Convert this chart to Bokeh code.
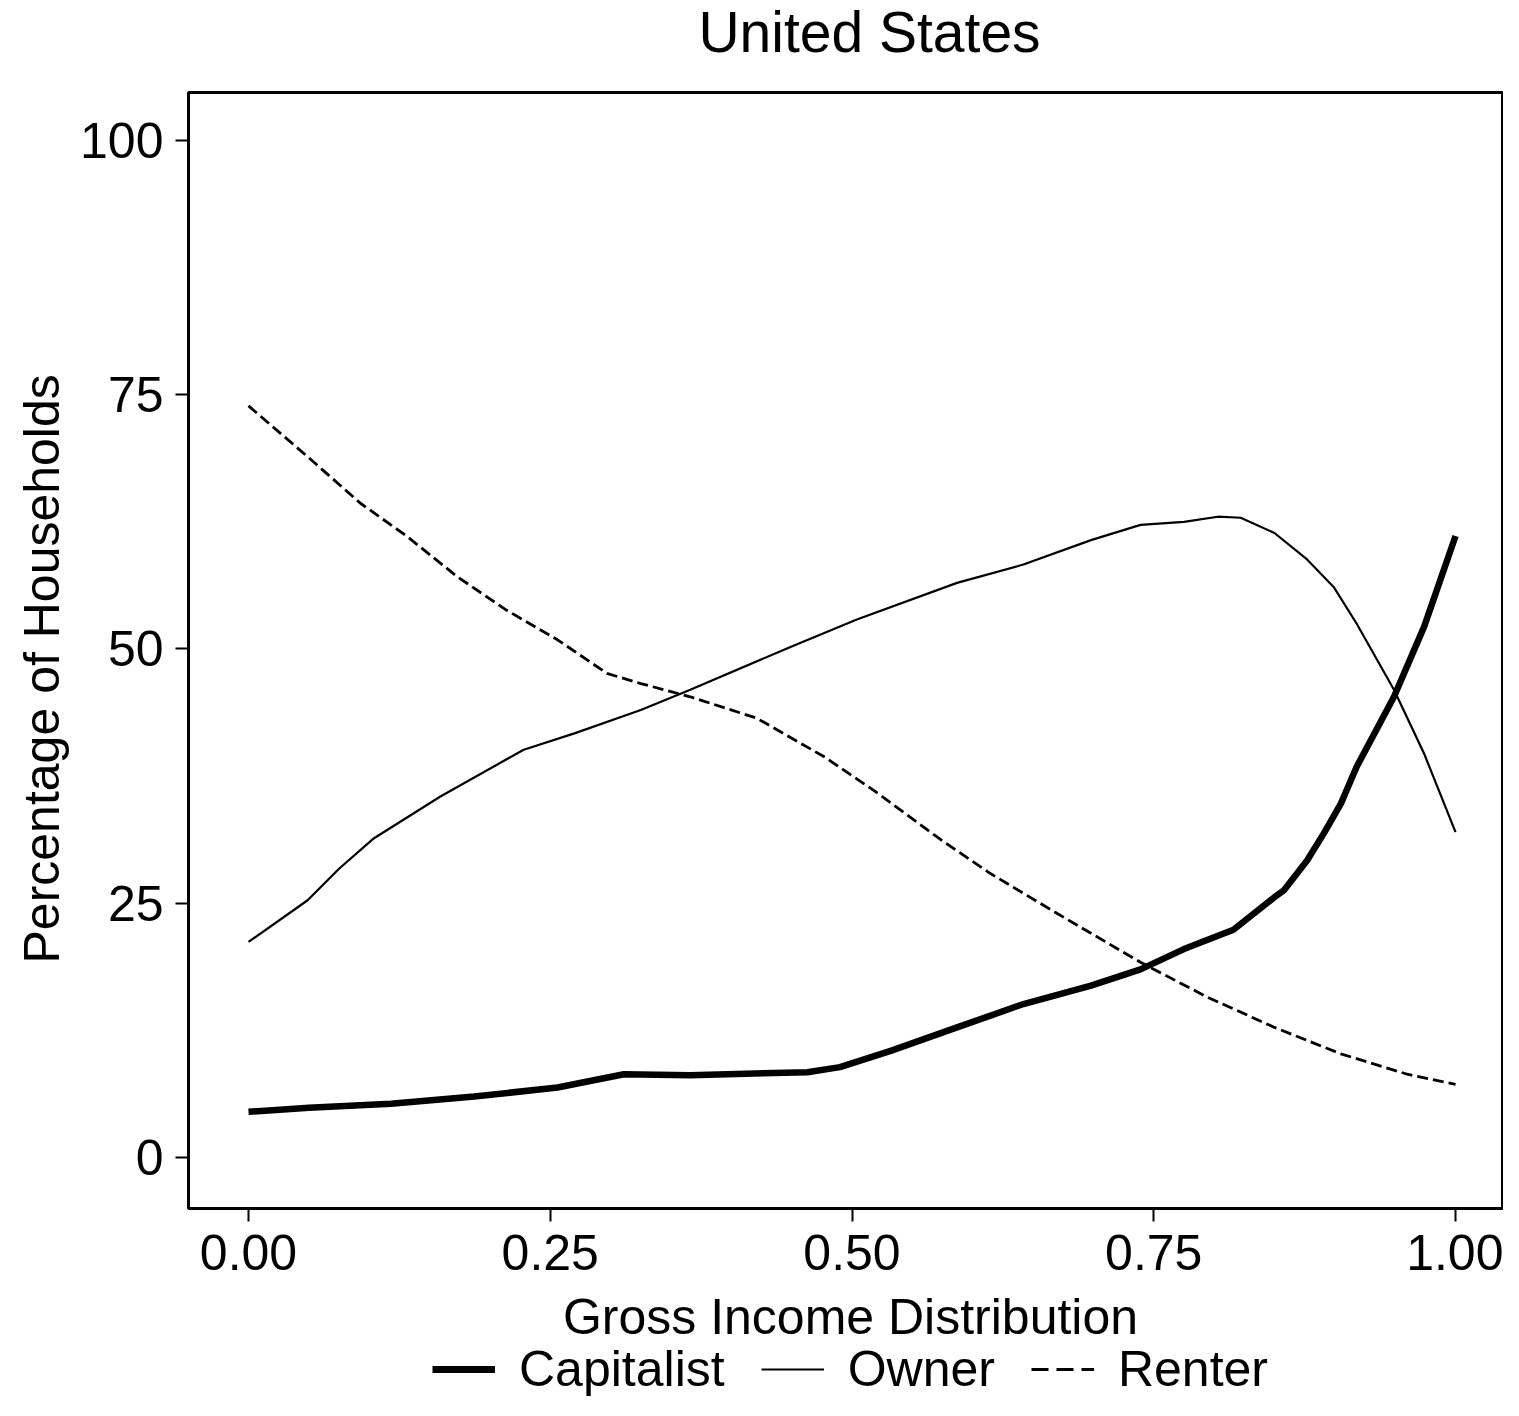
from bokeh.plotting import figure
from bokeh.layouts import column
from bokeh.models import (Range1d, FixedTicker, NumeralTickFormatter, Legend, LegendItem,
                          Title, Label)
from bokeh.embed import file_html
from bokeh.resources import INLINE

# Capitalist (thick line)
cap_x = [0.0, 0.05, 0.118, 0.187, 0.256, 0.311, 0.366, 0.463, 0.49, 0.532, 0.587, 0.642,
         0.698, 0.739, 0.775, 0.816, 0.85, 0.858, 0.877, 0.891, 0.905, 0.918, 0.949, 0.974, 1.0]
cap_y = [4.5, 4.9, 5.3, 6.0, 6.9, 8.2, 8.1, 8.4, 8.9, 10.5, 12.8, 15.1,
         16.9, 18.5, 20.5, 22.4, 25.6, 26.3, 29.2, 31.9, 34.8, 38.4, 45.3, 52.2, 61.1]

# Owner (thin line)
own_x = [0.0, 0.049, 0.075, 0.104, 0.159, 0.228, 0.270, 0.325, 0.366, 0.449, 0.504, 0.587,
         0.642, 0.698, 0.739, 0.775, 0.803, 0.822, 0.850, 0.877, 0.899, 0.918, 0.949, 0.974, 1.0]
own_y = [21.2, 25.3, 28.4, 31.4, 35.5, 40.1, 41.7, 44.0, 46.0, 50.2, 52.9, 56.5,
         58.3, 60.7, 62.2, 62.5, 63.0, 62.9, 61.4, 58.8, 56.1, 52.5, 46.0, 39.7, 32.0]

# Renter (dashed line)
ren_x = [0.0, 0.049, 0.093, 0.131, 0.173, 0.214, 0.256, 0.297, 0.325, 0.366, 0.421, 0.477,
         0.518, 0.573, 0.615, 0.670, 0.739, 0.794, 0.850, 0.905, 0.960, 1.0]
ren_y = [73.9, 68.9, 64.3, 61.1, 57.1, 53.8, 50.9, 47.6, 46.6, 45.3, 43.2, 39.4,
         36.1, 31.3, 27.9, 24.0, 19.2, 15.8, 12.8, 10.2, 8.2, 7.2]

x_ticks = [0.0, 0.25, 0.5, 0.75, 1.0]
y_ticks = [0, 25, 50, 75, 100]

title_text = "United States"
x_label = "Gross Income Distribution"
y_label = "Percentage of Households"
series_names = ["Capitalist", "Owner", "Renter"]

FONT = "Liberation Sans"
W = 1503
H_TITLE = 90
H_MAIN = 1194
H_LEG = 116


def strip(height):
    f = figure(width=W, height=height, output_backend="svg", toolbar_location=None,
               x_range=Range1d(0, 1), y_range=Range1d(0, 1),
               x_axis_location=None, y_axis_location=None,
               min_border_left=188, min_border_right=1, min_border_top=0, min_border_bottom=0,
               background_fill_color="white", border_fill_color="white")
    f.outline_line_color = None
    f.xgrid.visible = False
    f.ygrid.visible = False
    return f


# ---- title strip ----
t = strip(H_TITLE)
t.add_layout(Label(x=681, y=59, x_units="screen", y_units="screen", text=title_text,
                   text_align="center", text_baseline="alphabetic",
                   text_font=FONT, text_font_size="57px", text_color="black"))

# ---- main chart ----
p = figure(width=W, height=H_MAIN, output_backend="svg", toolbar_location=None,
           x_range=Range1d(-0.0497, 1.0389), y_range=Range1d(-5.0, 104.7),
           min_border_left=188, min_border_right=1, min_border_top=2, min_border_bottom=76,
           background_fill_color="white", border_fill_color="white")

p.xgrid.visible = False
p.ygrid.visible = False
p.outline_line_color = "black"
p.outline_line_width = 3
p.outline_line_alpha = 1

for ax in (p.xaxis[0], p.yaxis[0]):
    ax.axis_line_color = None
    ax.major_tick_line_color = "black"
    ax.major_tick_line_width = 2
    ax.major_tick_out = 13
    ax.major_tick_in = 0
    ax.minor_tick_line_color = None
    ax.major_label_text_font = FONT
    ax.major_label_text_font_size = "50px"
    ax.major_label_text_color = "black"

p.xaxis.ticker = FixedTicker(ticks=x_ticks)
p.xaxis.formatter = NumeralTickFormatter(format="0.00")
p.xaxis.major_label_standoff = 13

p.yaxis.ticker = FixedTicker(ticks=y_ticks)
p.yaxis.major_label_standoff = 12

ytitle = Title(text=y_label, align="left", offset=245, standoff=16,
               text_font=FONT, text_font_size="50px", text_font_style="normal",
               text_color="black")
p.add_layout(ytitle, "left")

p.line(cap_x, cap_y, line_color="black", line_width=6.5)
p.line(own_x, own_y, line_color="black", line_width=2.2)
p.line(ren_x, ren_y, line_color="black", line_width=2.8, line_dash="11 5")

# ---- x-axis title + legend strip ----
q = strip(H_LEG)
q.add_layout(Label(x=662, y=84, x_units="screen", y_units="screen", text=x_label,
                   text_align="center", text_baseline="alphabetic",
                   text_font=FONT, text_font_size="50px", text_color="black"))

# legend keys (lines kept outside the visible range of this strip)
off = [-10, -9]
k_cap = q.line(off, off, line_color="black", line_width=7)
k_own = q.line(off, off, line_color="black", line_width=2.2)
k_ren = q.line(off, off, line_color="black", line_width=2.8, line_dash="17 8")

legend = Legend(items=[LegendItem(label=series_names[0], renderers=[k_cap]),
                       LegendItem(label=series_names[1], renderers=[k_own]),
                       LegendItem(label=series_names[2], renderers=[k_ren])],
                orientation="horizontal", location=(244, 2),
                glyph_width=63, glyph_height=46, label_standoff=24, spacing=36,
                padding=0, margin=0,
                label_text_font=FONT, label_text_font_size="50px", label_text_color="black",
                border_line_color=None, background_fill_alpha=0)
q.add_layout(legend)

layout = column(t, p, q, spacing=0)
open("out.html", "w").write(file_html(layout, INLINE))
